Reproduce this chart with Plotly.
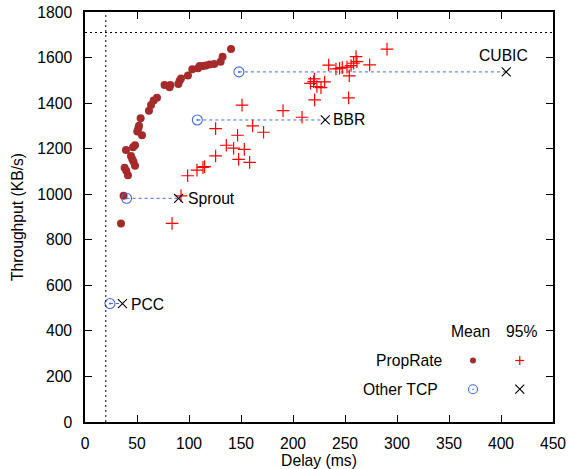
import plotly.graph_objects as go

# ---------------- data ----------------
prop_mean_delay = [140.4, 132.3, 130.4, 124.3, 119.8, 116.3, 113.5, 110.2, 108.7, 103.2,
                   99.0, 92.3, 91.0, 89.7, 82.0, 81.3, 76.5, 69.2, 66.0, 63.5,
                   61.5, 53.5, 51.9, 51.3, 50.3, 54.8, 48.1, 46.2, 39.4, 44.2,
                   45.5, 46.7, 48.1, 38.1, 39.7, 41.3, 37.1, 34.6]
prop_mean_tput = [1638, 1604, 1582, 1572, 1569, 1565, 1563, 1563, 1553, 1549,
                  1521, 1508, 1498, 1484, 1480, 1470, 1480, 1423, 1411, 1392,
                  1367, 1334, 1301, 1290, 1275, 1259, 1215, 1206, 1194, 1168,
                  1153, 1143, 1125, 1116, 1103, 1083, 993, 872]

prop_p95_delay = [290.4, 260.6, 261.5, 258.3, 273.7, 255.8, 234.3, 241.3, 244.8, 247.4,
                  251.9, 254.1, 220.5, 219.8, 216.8, 223.0, 226.9, 230.4, 220.8, 253.5,
                  208.7, 151.0, 190.4, 125.6, 161.2, 146.7, 171.7, 135.9, 142.9, 153.2,
                  125.6, 147.7, 158.3, 115.0, 113.4, 107.7, 98.7, 92.3, 83.7]
prop_p95_tput = [1637, 1604, 1582, 1575, 1568, 1565, 1567, 1550, 1553, 1556,
                 1558, 1520, 1506, 1494, 1487, 1473, 1468, 1493, 1414, 1423,
                 1338, 1391, 1367, 1288, 1300, 1259, 1272, 1215, 1202, 1197,
                 1168, 1153, 1140, 1121, 1118, 1106, 1081, 993, 872]

other_names = ["CUBIC", "BBR", "Sprout", "PCC"]
other_mean_delay = [148, 108, 40, 24]
other_p95_delay = [405, 231, 90, 36]
other_tput = [1537, 1326, 982, 520]

ref_delay = 20       # vertical dotted line (ms)
ref_tput = 1710      # horizontal dotted line (KB/s)

x_ticks = list(range(0, 451, 50))
y_ticks = list(range(0, 1801, 200))

# ---------------- styles ----------------
FONT = "Liberation Sans, Arial, sans-serif"
FS = 15.7
BROWN = "#a52a2a"
RED = "#ff0000"
BLUE = "#4169e1"

fig = go.Figure()

# dashed connectors between mean and 95th percentile of other TCPs
lx, ly = [], []
for m, p, t in zip(other_mean_delay, other_p95_delay, other_tput):
    lx += [m, p, None]
    ly += [t, t, None]
fig.add_trace(go.Scatter(x=lx, y=ly, mode="lines", showlegend=False, hoverinfo="skip",
                         line=dict(color=BLUE, width=1, dash="3px,3px")))

fig.add_trace(go.Scatter(x=prop_p95_delay, y=prop_p95_tput, mode="markers", showlegend=False,
                         marker=dict(symbol="cross-thin", size=9,
                                     line=dict(color=RED, width=1.2))))
fig.add_trace(go.Scatter(x=prop_mean_delay, y=prop_mean_tput, mode="markers", showlegend=False,
                         marker=dict(symbol="circle", size=8, color=BROWN,
                                     line=dict(width=0))))
fig.add_trace(go.Scatter(x=other_mean_delay, y=other_tput, mode="markers", showlegend=False,
                         marker=dict(symbol="circle-open-dot", size=10,
                                     color=BLUE, line=dict(color=BLUE, width=1.1))))
fig.add_trace(go.Scatter(x=other_p95_delay, y=other_tput, mode="markers", showlegend=False,
                         marker=dict(symbol="x-thin", size=9,
                                     line=dict(color="black", width=1.1))))

# labels for other TCPs
label_style = {"CUBIC": dict(xanchor="center", yanchor="bottom", xshift=-3, yshift=6),
               "BBR": dict(xanchor="left", yanchor="middle", xshift=6, yshift=0),
               "Sprout": dict(xanchor="left", yanchor="middle", xshift=7, yshift=0),
               "PCC": dict(xanchor="left", yanchor="middle", xshift=7, yshift=-1)}
for n, x, y in zip(other_names, other_p95_delay, other_tput):
    fig.add_annotation(x=x, y=y, text=n, showarrow=False,
                       font=dict(family=FONT, size=FS, color="black"), **label_style[n])

# reference dotted lines
fig.add_shape(type="line", xref="x", yref="paper", x0=ref_delay, x1=ref_delay, y0=0, y1=1,
              line=dict(color="black", width=1, dash="2px,3px"))
fig.add_shape(type="line", xref="paper", yref="y", x0=0, x1=1, y0=ref_tput, y1=ref_tput,
              line=dict(color="black", width=1, dash="2px,3px"))

# ---------------- custom key ----------------
def key_text(x, y, text, xanchor):
    fig.add_annotation(xref="paper", yref="paper", x=x, y=y, text=text, showarrow=False,
                       xanchor=xanchor, yanchor="middle",
                       font=dict(family=FONT, size=FS, color="black"))

def pix(shape_type, xp, yp, x0, x1, y0, y1, **kw):
    fig.add_shape(type=shape_type, xref="paper", yref="paper", xsizemode="pixel",
                  ysizemode="pixel", xanchor=xp, yanchor=yp,
                  x0=x0, x1=x1, y0=y0, y1=y1, **kw)

key_text(0.823, 0.220, "Mean", "center")
key_text(0.933, 0.220, "95%", "center")
key_text(0.769, 0.150, "PropRate", "right")
key_text(0.759, 0.080, "Other TCP", "right")

# PropRate mean (filled dot)
pix("circle", 0.829, 0.150, -3, 3, -3, 3, fillcolor=BROWN, line=dict(width=0))
# PropRate 95% (plus)
pix("line", 0.929, 0.150, -4.5, 4.5, 0, 0, line=dict(color=RED, width=1.2))
pix("line", 0.929, 0.150, 0, 0, -4.5, 4.5, line=dict(color=RED, width=1.2))
# Other mean (circle with dot)
pix("circle", 0.829, 0.080, -4.5, 4.5, -4.5, 4.5, line=dict(color=BLUE, width=1.1))
pix("circle", 0.829, 0.080, -0.8, 0.8, -0.8, 0.8, fillcolor=BLUE, line=dict(width=0))
# Other 95% (x)
pix("line", 0.929, 0.080, -4.5, 4.5, -4.5, 4.5, line=dict(color="black", width=1.1))
pix("line", 0.929, 0.080, -4.5, 4.5, 4.5, -4.5, line=dict(color="black", width=1.1))

axis_common = dict(showgrid=False, zeroline=False, showline=True, linecolor="black",
                   linewidth=1.5, mirror="ticks", ticks="inside", ticklen=7,
                   tickwidth=1, tickcolor="black",
                   tickfont=dict(family=FONT, size=FS, color="black"))

fig.update_layout(
    width=569, height=469,
    margin=dict(l=85, r=16, t=12, b=47, autoexpand=False),
    paper_bgcolor="white", plot_bgcolor="white",
    xaxis=dict(range=[0, 450], tickvals=x_ticks, ticklabelstandoff=6,
               title=dict(text="Delay (ms)", font=dict(family=FONT, size=FS, color="black"),
                          standoff=5),
               **axis_common),
    yaxis=dict(range=[0, 1800], tickvals=y_ticks, ticklabelstandoff=8,
               title=dict(text="Throughput (KB/s)",
                          font=dict(family=FONT, size=FS, color="black"), standoff=10),
               **axis_common),
)

fig.write_html("out.html", config={"displayModeBar": False},
               post_script="document.body.style.margin='0';document.body.style.padding='0';")
